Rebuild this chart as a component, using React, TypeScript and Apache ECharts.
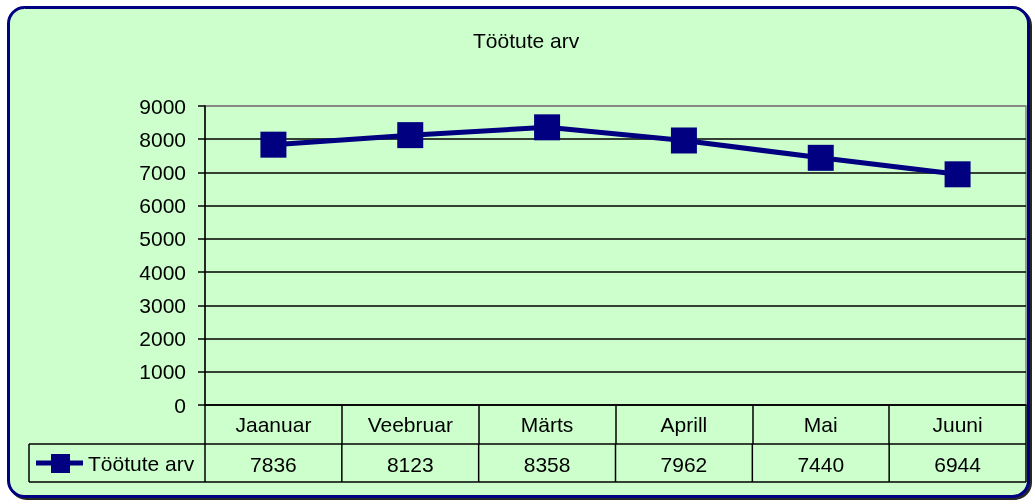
import React, { useEffect, useRef } from "react";
import * as echarts from "echarts";

const title = "Töötute arv";
const seriesName = "Töötute arv";
const categories = ["Jaanuar", "Veebruar", "Märts", "Aprill", "Mai", "Juuni"];
const values = [7836, 8123, 8358, 7962, 7440, 6944];
const yMin = 0;
const yMax = 9000;
const yStep = 1000;

const FONT = "'Liberation Sans', Arial, sans-serif";
const FS = 21;
const NAVY = "#000080";

export default function App() {
  const ref = useRef<HTMLDivElement>(null);

  useEffect(() => {
    if (!ref.current) return;
    const chart = echarts.init(ref.current, null, { renderer: "svg" });

    const L = 205, R = 1026, T = 106, B = 405;
    const row1 = 444, row2 = 482, legendLeft = 29;
    const colW = (R - L) / categories.length;

    const lineCount = Math.round((yMax - yMin) / yStep) + 1;
    const splitColors = Array.from({ length: lineCount }, (_, i) => (i === lineCount - 1 ? "#808080" : "#000000"));

    const graphics: any[] = [
      {
        type: "rect",
        z: -10,
        shape: { x: 8.5, y: 7.5, width: 1020, height: 489, r: 16 },
        style: {
          fill: "#CCFFCC",
          stroke: NAVY,
          lineWidth: 3,
          shadowColor: "rgba(0,0,0,0.85)",
          shadowOffsetX: 2,
          shadowOffsetY: 2,
          shadowBlur: 1,
        },
      },
      { type: "line", shape: { x1: legendLeft, y1: row1, x2: R, y2: row1 }, style: { stroke: "#000", lineWidth: 1.5 } },
      { type: "line", shape: { x1: legendLeft, y1: row2, x2: R, y2: row2 }, style: { stroke: "#000", lineWidth: 1.5 } },
      { type: "line", shape: { x1: legendLeft, y1: row1, x2: legendLeft, y2: row2 }, style: { stroke: "#000", lineWidth: 1.5 } },
      { type: "line", shape: { x1: 36, y1: 463, x2: 83, y2: 463 }, style: { stroke: NAVY, lineWidth: 5 } },
      { type: "rect", shape: { x: 51, y: 454, width: 19, height: 19 }, style: { fill: NAVY } },
      {
        type: "text",
        x: 88,
        y: 463,
        style: { text: seriesName, font: `${FS}px ${FONT}`, fill: "#000", verticalAlign: "middle", align: "left" },
      },
    ];
    for (let i = 0; i <= categories.length; i++) {
      const x = L + colW * i;
      graphics.push({ type: "line", shape: { x1: x, y1: row1, x2: x, y2: row2 }, style: { stroke: "#000", lineWidth: 1.5 } });
    }
    values.forEach((v, i) => {
      graphics.push({
        type: "text",
        x: L + colW * (i + 0.5),
        y: 464,
        style: { text: String(v), font: `${FS}px ${FONT}`, fill: "#000", align: "center", verticalAlign: "middle" },
      });
    });

    chart.setOption({
      animation: false,
      backgroundColor: "transparent",
      title: {
        text: title,
        left: 468,
        top: 25,
        textStyle: { fontFamily: FONT, fontSize: FS, fontWeight: "normal", color: "#000" },
      },
      grid: {
        left: L,
        top: T,
        right: 1035 - R,
        bottom: 504 - B,
        show: true,
        borderColor: "#808080",
        borderWidth: 1.5,
        backgroundColor: "transparent",
      },
      xAxis: {
        type: "category",
        data: categories,
        boundaryGap: true,
        axisLine: { show: true, lineStyle: { color: "#000", width: 1.5 } },
        axisTick: { show: true, interval: 0, length: row1 - B, lineStyle: { color: "#000", width: 1.5 } },
        axisLabel: { interval: 0, margin: 9, fontFamily: FONT, fontSize: FS, color: "#000" },
        splitLine: { show: false },
      },
      yAxis: {
        type: "value",
        min: yMin,
        max: yMax,
        interval: yStep,
        axisLine: { show: true, lineStyle: { color: "#000", width: 1.5 } },
        axisTick: { show: true, length: 7, lineStyle: { color: "#000", width: 1.5 } },
        axisLabel: { margin: 19, fontFamily: FONT, fontSize: FS, color: "#000", formatter: (v: number) => String(v) },
        splitLine: { show: true, lineStyle: { color: splitColors, width: 1.5 } },
      },
      series: [
        {
          name: seriesName,
          type: "line",
          data: values,
          symbol: "rect",
          symbolSize: 26,
          lineStyle: { color: NAVY, width: 5 },
          itemStyle: { color: NAVY },
          z: 5,
        },
      ],
      graphic: graphics,
    });

    return () => chart.dispose();
  }, []);

  return (
    <div
      ref={ref}
      style={{ position: "fixed", left: 0, top: 0, width: 1035, height: 504 }}
    />
  );
}
